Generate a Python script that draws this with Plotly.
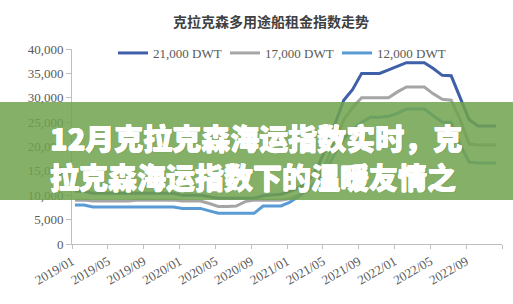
import plotly.graph_objects as go

# Monthly charter-rate index, 2019/01 - 2022/12 (USD/day)
months = [f"{y}/{m:02d}" for y in (2019, 2020, 2021, 2022) for m in range(1, 13)]

dwt_21k = [10800, 10800, 10400, 10400, 10400, 10400, 10400, 10400, 10400, 10400, 10400, 10400,
           10000, 10000, 10000, 9700, 9400, 9400, 9400, 9400, 9400, 9900, 10000, 10200,
           10800, 11500, 12800, 15500, 19500, 24500, 29500, 31700, 35000, 35000, 35000, 35700,
           36500, 37200, 37200, 37200, 36000, 34600, 34500, 30000, 25500, 24200, 24200, 24200]

dwt_17k = [9000, 9000, 8800, 8800, 8800, 8800, 8800, 9000, 9000, 9000, 9000, 9000,
           8800, 8800, 8800, 8300, 7700, 7700, 7800, 8700, 9000, 9000, 9000, 9000,
           9300, 10000, 11000, 13000, 16500, 21000, 25500, 28000, 30000, 30000, 30000, 30000,
           31200, 32200, 32200, 32200, 30800, 29700, 29500, 25500, 20500, 20300, 20300, 20300]

dwt_12k = [8000, 8000, 7600, 7600, 7600, 7600, 7600, 7600, 7600, 7600, 7600, 7600,
           7300, 7300, 7300, 6800, 6300, 6300, 6300, 6300, 6300, 7800, 7800, 7800,
           8600, 9800, 11000, 12500, 15000, 18500, 21500, 23500, 25000, 26000, 26000, 26200,
           26800, 27700, 27700, 27700, 26300, 25000, 25000, 20500, 16800, 16600, 16600, 16600]

series_names = ["21,000 DWT", "17,000 DWT", "12,000 DWT"]
series_colors = ["#3f5fa8", "#a5a5a5", "#5b9bd5"]

tick_labels = ["2019/01", "2019/05", "2019/09", "2020/01", "2020/05", "2020/09",
               "2021/01", "2021/05", "2021/09", "2022/01", "2022/05", "2022/09", ""]

title_text = "克拉克森多用途船租金指数走势"
banner_lines = ["12月克拉克森海运指数实时，克", "拉克森海运指数下的温暖友情之"]

W, H = 513, 304
L, R, T, B = 72, 11, 49, 60
PW, PH = W - L - R, H - T - B

x_idx = list(range(len(months)))
offset = 0.33
tick_pos = [i - offset for i in range(0, 49, 4)]

fig = go.Figure()
for name, vals, col in zip(series_names, [dwt_21k, dwt_17k, dwt_12k], series_colors):
    fig.add_trace(go.Scatter(
        x=x_idx, y=vals, name=name, mode="lines",
        line=dict(color=col, width=3),
        customdata=months,
        hovertemplate="%{customdata}: %{y:,}<extra>" + name + "</extra>",
    ))

serif = "Liberation Serif, Times New Roman, serif"
cjk = "Noto Sans CJK SC"


def px_x(px):
    return (px - L) / PW


def px_y(py):
    return (H - B - py) / PH


# thin white offsets thicken the headline strokes; a faint drop shadow underneath
heavy_shadow = ("0.5px 0 0 white, -0.5px 0 0 white, 0 0.5px 0 white, 0 -0.5px 0 white, "
                "1px 1px 1px rgba(50,70,30,0.2)")
banner_font = dict(family=cjk, size=29, color="white", weight=900, shadow=heavy_shadow)

fig.update_layout(
    width=W, height=H,
    margin=dict(l=L, r=R, t=T, b=B),
    paper_bgcolor="white", plot_bgcolor="white",
    showlegend=True,
    legend=dict(
        orientation="h", x=px_x(113), xanchor="left",
        y=px_y(53), yanchor="middle",
        font=dict(family=serif, size=13, color="#595959"),
        bgcolor="rgba(0,0,0,0)",
        itemwidth=30, entrywidth=67, entrywidthmode="pixels",
        traceorder="normal",
    ),
    xaxis=dict(
        range=[-offset, 48 - offset], tickmode="array",
        tickvals=tick_pos, ticktext=tick_labels, tickangle=-30,
        showgrid=False, zeroline=False,
        showline=True, linecolor="#bfbfbf", linewidth=1,
        ticks="outside", ticklen=4, tickcolor="#bfbfbf",
        tickfont=dict(family=serif, size=13, color="#595959"),
    ),
    yaxis=dict(
        range=[0, 40000], dtick=5000, tickformat=",d",
        showgrid=False, zeroline=False,
        showline=True, linecolor="#bfbfbf", linewidth=1,
        ticks="outside", ticklen=5, tickcolor="#bfbfbf",
        tickfont=dict(family=serif, size=13, color="#595959"),
    ),
    annotations=[
        dict(text="<b>" + title_text + "</b>", xref="paper", yref="paper",
             x=px_x(271), y=px_y(21), xanchor="center", yanchor="middle",
             showarrow=False, font=dict(family=cjk, size=14, color="#404040")),
        dict(text=banner_lines[0], xref="paper", yref="paper",
             x=px_x(48), y=px_y(137), xanchor="left", yanchor="middle",
             showarrow=False, font=banner_font),
        dict(text=banner_lines[1], xref="paper", yref="paper",
             x=px_x(48), y=px_y(176), xanchor="left", yanchor="middle",
             showarrow=False, font=banner_font),
    ],
    shapes=[
        dict(type="rect", xref="paper", yref="paper", layer="above",
             x0=px_x(0), x1=px_x(W), y0=px_y(200), y1=px_y(102),
             fillcolor="rgba(112,162,78,0.85)", line=dict(width=0)),
    ],
)

fig.write_html("out.html")
